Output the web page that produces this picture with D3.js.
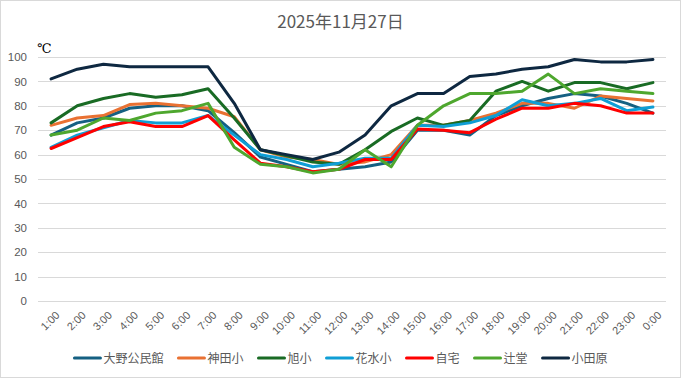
<!DOCTYPE html>
<html>
<head>
<meta charset="utf-8">
<script src="https://cdn.jsdelivr.net/npm/d3@7/dist/d3.min.js"></script>
<style>
  body { margin: 0; background: #fff; }
  text { font-family: "Noto Sans CJK JP", "Noto Sans", sans-serif; }
</style>
</head>
<body>
<div id="chart"></div>
<script>
// data
var hours = ["1:00","2:00","3:00","4:00","5:00","6:00","7:00","8:00","9:00","10:00","11:00","12:00",
             "13:00","14:00","15:00","16:00","17:00","18:00","19:00","20:00","21:00","22:00","23:00","0:00"];
var yTicks = [0,10,20,30,40,50,60,70,80,90,100];

var seriesNames = ["大野公民館","神田小","旭小","花水小","自宅","辻堂","小田原"];
var seriesColors = ["#156082","#E97132","#196B24","#0F9ED5","#FF0000","#4EA72E","#0E2841"];

var oono     = [68,73,75,79,80,80,78,69,59,56,53,54,55,57,70,70,68,76,80,83,85,84,81,77];
var kanda    = [72,75,76,80.5,81,80,79,75.5,62,59,58,56,57,60,72,72,74,77,81,81,79,84,83,82];
var asahi    = [73,80,83,85,83.5,84.5,87,75,62,59.5,57,56,62,69.5,75,72,74,86,90,86,89.5,89.5,87,89.5];
var hanamizu = [63,68,71,74,73,73,76,68,60,58,55,56.5,58.5,58.5,72,71.5,73,76,82.5,80,81,83,78,79.5];
var jitaku   = [62.5,67,71.5,73.5,71.5,71.5,76,66,56.5,55,53,54,58,58,70.5,70,69,74.5,79,79,81,80,77,77];
var tsujido  = [68,70,75,74,77,78,81,63,56,55,52.5,54,62,55,72,80,85,85,86,93,85,87,86,85];
var odawara  = [91,95,97,96,96,96,96,81,62,60,58,61,68,80,85,85,92,93,95,96,99,98,98,99];

var allSeries = [oono, kanda, asahi, hanamizu, jitaku, tsujido, odawara];

var W = 681, H = 378;
var margin = { top: 57, right: 15, bottom: 77, left: 38 },
    width = 666 - margin.left,
    height = 301 - margin.top;

var svg = d3.select("#chart").append("svg")
    .attr("width", W)
    .attr("height", H);

// chart border
svg.append("rect")
    .attr("x", 0.5).attr("y", 0.5)
    .attr("width", W - 1).attr("height", H - 1)
    .attr("fill", "#fff")
    .attr("stroke", "#D9D9D9");

svg.append("text")
    .attr("x", W / 2).attr("y", 28)
    .attr("text-anchor", "middle")
    .attr("font-size", 17)
    .attr("fill", "#595959")
    .text("2025年11月27日");

var g = svg.append("g")
    .attr("transform", "translate(" + margin.left + "," + margin.top + ")");

var x = d3.scalePoint()
    .domain(hours)
    .range([0, width])
    .padding(0.5);
var y = d3.scaleLinear()
    .domain([0, 100])
    .range([height, 0]);

// gridlines
g.append("g")
    .selectAll("line")
    .data(yTicks)
    .enter().append("line")
    .attr("x1", 0).attr("x2", width)
    .attr("y1", function (d) { return Math.round(y(d)) + 0.5; })
    .attr("y2", function (d) { return Math.round(y(d)) + 0.5; })
    .attr("stroke", "#D9D9D9")
    .attr("stroke-width", 1);

// y axis labels
var yAxis = g.append("g")
    .call(d3.axisLeft(y).tickValues(yTicks).tickSize(0).tickPadding(11));
yAxis.select(".domain").remove();
yAxis.selectAll("text")
    .attr("font-size", 11.5)
    .attr("fill", "#595959")
    .style("font-family", "\"Liberation Sans\", sans-serif");

// x axis labels
var xAxis = g.append("g")
    .attr("transform", "translate(0," + height + ")")
    .call(d3.axisBottom(x).tickSize(0));
xAxis.select(".domain").remove();
xAxis.selectAll("text")
    .attr("font-size", 11)
    .attr("fill", "#595959")
    .style("font-family", "\"Liberation Sans\", sans-serif")
    .attr("text-anchor", "end")
    .attr("dy", "0.35em")
    .attr("transform", "translate(4,10) rotate(-45)");

// unit label
svg.append("text")
    .attr("x", 37).attr("y", 53)
    .attr("font-size", 13)
    .attr("fill", "#000")
    .style("font-family", "\"DejaVu Serif\", serif")
    .text("℃");

// lines
var line = d3.line()
    .x(function (d, i) { return x(hours[i]); })
    .y(function (d) { return y(d); });

g.selectAll(".series")
    .data(allSeries)
    .enter().append("path")
    .attr("class", "series")
    .attr("d", line)
    .attr("fill", "none")
    .attr("stroke", function (d, i) { return seriesColors[i]; })
    .attr("stroke-width", 3)
    .attr("stroke-linejoin", "round")
    .attr("stroke-linecap", "round");

// legend
var legend = svg.append("g");
var lx = 0;
seriesNames.forEach(function (name, i) {
    var item = legend.append("g").attr("transform", "translate(" + lx + ",0)");
    item.append("line")
        .attr("x1", 1).attr("x2", 27)
        .attr("y1", 0).attr("y2", 0)
        .attr("stroke", seriesColors[i])
        .attr("stroke-width", 3)
        .attr("stroke-linecap", "round");
    var t = item.append("text")
        .attr("x", 30).attr("y", 4.5)
        .attr("font-size", 12)
        .attr("fill", "#595959")
        .text(name);
    lx += 30 + t.node().getComputedTextLength() + 14;
});
lx -= 14;
legend.attr("transform", "translate(" + ((W - lx) / 2) + ",358)");
</script>
</body>
</html>
